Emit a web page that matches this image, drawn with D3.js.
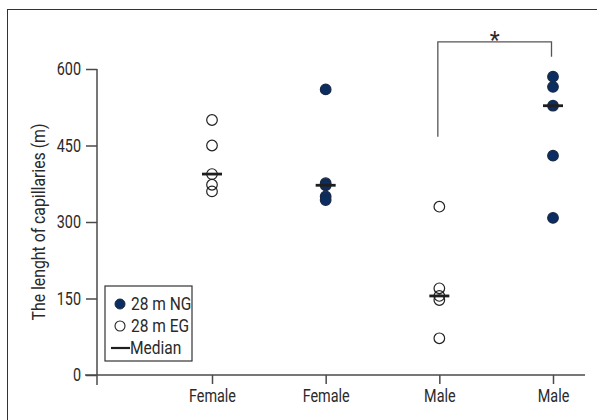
<!DOCTYPE html>
<html>
<head>
<meta charset="utf-8">
<script src="https://cdn.jsdelivr.net/npm/d3@7"></script>
<style>
  html, body { margin: 0; padding: 0; background: #fff; }
  svg { display: block; }
  text { font-family: Roboto, "Liberation Sans", sans-serif; fill: #2a2a2a; }
</style>
</head>
<body>
<svg id="chart" width="597" height="420"></svg>
<script>
// ---- data ----
const categories = ["Female", "Female", "Male", "Male"];
const groupType = ["EG", "NG", "EG", "NG"];
const groupValues = [
  [500, 450, 394, 373, 360],
  [560, 376, 372, 350, 343],
  [330, 170, 155, 147, 72],
  [585, 565, 528, 430, 308]
];
const medians = [394, 372, 155, 528];
const yTicks = [0, 150, 300, 450, 600];
const legendLabels = ["28 m NG", "28 m EG", "Median"];
const yLabel = "The lenght of capillaries (m)";
const sigPair = [2, 3];
const sigLevels = { top: 653, left: 467, right: 624 };
const sigLabel = "*";

// ---- layout ----
const svg = d3.select("#chart");
const navy = "#0b2d62";
const ink = "#222";
const axisCol = "#4a4a4a";

function squeeze(sel, sx) {
  sel.each(function () {
    const t = d3.select(this);
    const xv = +t.attr("x") || 0;
    t.attr("x", xv / sx).attr("transform", `scale(${sx},1)`);
  });
}

// outer frame
svg.append("rect")
  .attr("x", 7.5).attr("y", 9.5)
  .attr("width", 620).attr("height", 440)
  .attr("fill", "none").attr("stroke", "#333").attr("stroke-width", 1);

const x = d3.scalePoint().domain(d3.range(categories.length)).range([212, 553]);
const y = d3.scaleLinear().domain([0, 600]).range([375, 69]);

// y axis
const yAxis = svg.append("g").attr("transform", "translate(97,0)")
  .call(d3.axisLeft(y).tickValues(yTicks).tickSize(11).tickSizeOuter(0).tickPadding(5));
yAxis.select(".domain").remove();
yAxis.selectAll(".tick line").attr("stroke", axisCol).attr("stroke-width", 1.5);
yAxis.selectAll(".tick text").attr("font-size", 18).attr("fill", "#2a2a2a")
  .style("font-family", "Roboto, 'Liberation Sans', sans-serif");
squeeze(yAxis.selectAll(".tick text"), 0.8);
svg.append("line").attr("x1", 97).attr("x2", 97)
  .attr("y1", y(600)).attr("y2", y(0) + 10)
  .attr("stroke", axisCol).attr("stroke-width", 1.5);

// x axis
const xAxis = svg.append("g").attr("transform", `translate(0,${y(0)})`)
  .call(d3.axisBottom(x).tickFormat(i => categories[i]).tickSize(9).tickSizeOuter(0).tickPadding(5));
xAxis.select(".domain").remove();
xAxis.selectAll(".tick line").attr("stroke", axisCol).attr("stroke-width", 1.5);
xAxis.selectAll(".tick text").attr("font-size", 18).attr("fill", "#2a2a2a")
  .style("font-family", "Roboto, 'Liberation Sans', sans-serif");
squeeze(xAxis.selectAll(".tick text"), 0.8);
svg.append("line").attr("x1", 85).attr("x2", 585)
  .attr("y1", y(0)).attr("y2", y(0))
  .attr("stroke", axisCol).attr("stroke-width", 1.5);

// y label
svg.append("text")
  .attr("transform", `translate(45,${y(300)}) rotate(-90) scale(0.88,1)`)
  .attr("text-anchor", "middle")
  .attr("font-size", 18)
  .text(yLabel);

// points
groupValues.forEach((vals, gi) => {
  const filled = groupType[gi] === "NG";
  svg.append("g").selectAll("circle").data(vals).join("circle")
    .attr("cx", x(gi))
    .attr("cy", d => y(d))
    .attr("r", 5.3)
    .attr("fill", filled ? navy : "#fff")
    .attr("fill-opacity", filled ? 1 : 0)
    .attr("stroke", filled ? "#1a2a44" : ink)
    .attr("stroke-width", 1.2);
});

// medians
svg.append("g").selectAll("line").data(medians).join("line")
  .attr("x1", (d, i) => x(i) - 10)
  .attr("x2", (d, i) => x(i) + 10)
  .attr("y1", d => y(d)).attr("y2", d => y(d))
  .attr("stroke", "#1e1e1e").attr("stroke-width", 2.8);

// significance bracket
const bx1 = x(sigPair[0]) - 1.5, bx2 = x(sigPair[1]) - 1.5;
svg.append("path")
  .attr("d", `M${bx1},${y(sigLevels.left)}V${y(sigLevels.top)}H${bx2}V${y(sigLevels.right)}`)
  .attr("fill", "none").attr("stroke", "#555").attr("stroke-width", 1.3);
svg.append("text")
  .attr("x", (bx1 + bx2) / 2).attr("y", y(sigLevels.top) + 6)
  .attr("text-anchor", "middle").attr("font-size", 23)
  .text(sigLabel);

// legend
const lg = svg.append("g");
lg.append("rect").attr("x", 105).attr("y", 286).attr("width", 87).attr("height", 75)
  .attr("fill", "#fff").attr("stroke", "#333").attr("stroke-width", 1.2);
const rowsY = [304, 326, 348];
lg.append("circle").attr("cx", 120).attr("cy", rowsY[0]).attr("r", 5)
  .attr("fill", navy).attr("stroke", "#1a2a44").attr("stroke-width", 1);
lg.append("circle").attr("cx", 120).attr("cy", rowsY[1]).attr("r", 5)
  .attr("fill", "#fff").attr("stroke", ink).attr("stroke-width", 1.1);
lg.append("line").attr("x1", 111).attr("x2", 130).attr("y1", rowsY[2]).attr("y2", rowsY[2])
  .attr("stroke", "#1e1e1e").attr("stroke-width", 2.2);
const lt = lg.selectAll("text.lab").data(legendLabels).join("text")
  .attr("class", "lab")
  .attr("x", (d, i) => i === 2 ? 130 : 131)
  .attr("y", (d, i) => rowsY[i] + 6)
  .attr("font-size", 18.5)
  .text(d => d);
squeeze(lt, 0.84);
</script>
</body>
</html>
